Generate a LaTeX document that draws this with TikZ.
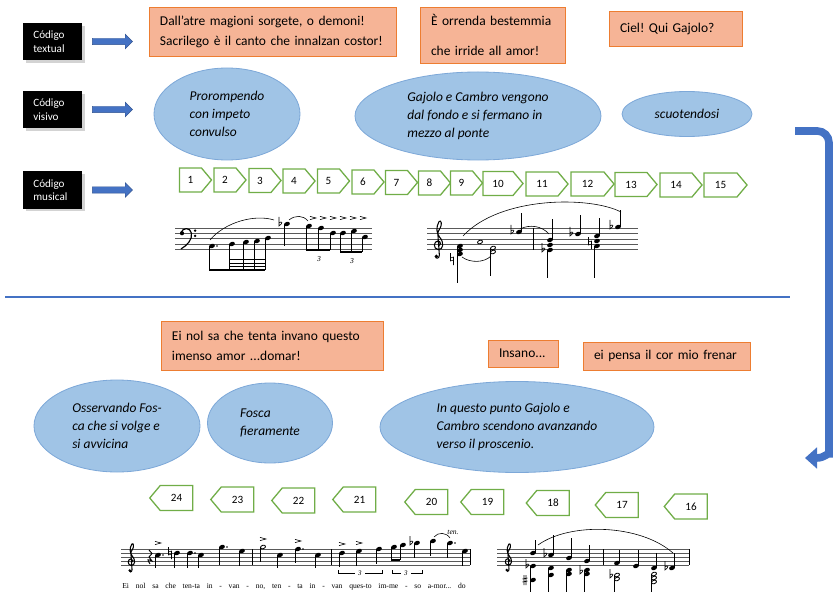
\documentclass[tikz,border=0pt]{standalone}
\usepackage{fontspec}
\setmainfont{Carlito}
\newfontfamily\scorefont{Liberation Serif}
\usetikzlibrary{positioning,shapes.geometric,shapes.symbols,shapes.arrows,shadows,arrows.meta}
\frenchspacing

\definecolor{boxorange}{RGB}{246,180,150}
\definecolor{boxedge}{RGB}{237,125,49}
\definecolor{ovalblue}{RGB}{160,196,230}
\definecolor{ovaledge}{RGB}{125,168,216}
\definecolor{flowblue}{RGB}{68,114,196}
\definecolor{flowedge}{RGB}{47,82,143}
\definecolor{tabgreen}{RGB}{112,173,71}

% small helpers for the score snippets (x, y in pixels)
\newcommand{\staffat}[4]{\foreach \k in {0,...,4}{\draw[line width=0.4pt, black!65] (#1,{#3+\k*#4}) -- (#2,{#3+\k*#4});}}
\newcommand{\nhead}[2]{\fill[rotate around={20:(#1,#2)}] (#1,#2) ellipse [x radius=3, y radius=2.1];}
\newcommand{\openhd}[2]{\draw[line width=0.7pt, rotate around={20:(#1,#2)}] (#1,#2) ellipse [x radius=2.6, y radius=1.7];}
\newcommand{\notedn}[3]{\nhead{#1}{#2}\draw[line width=0.5pt] ({#1-2.7},#2) -- ({#1-2.7},#3);}
\newcommand{\noteup}[3]{\nhead{#1}{#2}\draw[line width=0.5pt] ({#1+2.7},#2) -- ({#1+2.7},#3);}
\newcommand{\dotmark}[2]{\fill (#1,#2) circle [radius=0.8];}
\newcommand{\accmark}[2]{\draw[line width=0.5pt] ({#1-3},{#2-1.6}) -- ({#1+3},#2) -- ({#1-3},{#2+1.6});}
\newcommand{\flatmark}[2]{\draw[line width=0.5pt] ({#1-1},{#2-7}) -- ({#1-1},{#2+2}) .. controls ({#1+3.5},{#2-1}) and ({#1+2},{#2-3.5}) .. ({#1-1},{#2-1});}
\newcommand{\naturalmark}[2]{\draw[line width=0.5pt] ({#1-1.5},{#2-6}) -- ({#1-1.5},{#2+2}) -- ({#1+1.5},{#2+1}) (#1+1.5,{#2+6}) -- ({#1+1.5},{#2-2}) -- ({#1-1.5},{#2-1});}
\newcommand{\sharpmark}[2]{\draw[line width=0.5pt] ({#1-1},{#2-5}) -- ({#1-1},{#2+5}) ({#1+1},{#2-5}) -- ({#1+1},{#2+5}) ({#1-2.5},{#2-1}) -- ({#1+2.5},{#2-2}) ({#1-2.5},{#2+2}) -- ({#1+2.5},{#2+1});}
\newcommand{\barat}[3]{\draw[line width=0.5pt] (#1,#2) -- (#1,#3);}
% clefs: x, y of the G (or F) line, staff gap
\newcommand{\gclef}[3]{\begin{scope}[shift={(#1,#2)}, scale=#3]
  \draw[line width=0.9pt] (0.15,0.25) .. controls (0.55,0.2) and (0.55,-0.6) .. (0,-0.6)
    .. controls (-0.8,-0.6) and (-1.0,0.9) .. (0.05,1.0)
    .. controls (1.0,1.05) and (1.2,-0.3) .. (0.3,-1.3)
    .. controls (-0.3,-2.0) and (-0.4,-3.2) .. (0.2,-4.2)
    .. controls (0.6,-4.6) and (0.8,-3.6) .. (0.4,-3.0)
    .. controls (0.1,-2.6) and (-0.1,-2.2) .. (0,-1.5)
    -- (0.25,2.0) .. controls (0.3,2.7) and (-0.5,2.8) .. (-0.45,2.2);
  \fill (-0.3,2.25) circle [radius=0.35];
  \end{scope}}
\newcommand{\fclef}[3]{\begin{scope}[shift={(#1,#2)}, scale=#3]
  \fill (0,0) circle [radius=0.4];
  \draw[line width=1pt] (-0.2,-0.1) .. controls (0.1,-1.1) and (1.6,-1.2) .. (1.8,0)
    .. controls (2.0,1.2) and (1.0,2.3) .. (-0.2,3.0);
  \fill (2.5,-0.5) circle [radius=0.25] (2.5,0.5) circle [radius=0.25];
  \end{scope}}

\begin{document}
\begin{tikzpicture}[x=0.03cm, y=-0.03cm,
    codebox/.style={rectangle, fill=black, text=white, minimum width=1.77cm, minimum height=1.11cm, text width=1.15cm, inner xsep=0.31cm, align=left, font=\fontsize{9.5}{11.5}\selectfont, drop shadow={opacity=0.35}},
    flowarrow/.style={single arrow, fill=flowblue, draw=flowedge, line width=0.4pt, minimum height=1.2cm, minimum width=0.42cm, inner sep=0.09cm, single arrow head extend=0.12cm},
    lyricbox/.style={rectangle, fill=boxorange, draw=boxedge, line width=0.7pt, inner xsep=0.33cm, align=left, font=\fontsize{11.5}{17}\selectfont},
    stagenote/.style={ellipse, fill=ovalblue, draw=ovaledge, line width=0.7pt, inner sep=0, align=left, font=\itshape\fontsize{11.5}{15.5}\selectfont},
    barbox/.style={signal, draw=tabgreen, line width=1.1pt, fill=white, inner sep=0, signal pointer angle=100, font=\fontsize{9.5}{10}\selectfont},
    fwd/.style={barbox, signal to=east, minimum height=0.72cm, minimum width=0.96cm},
    bwd/.style={barbox, signal to=west, minimum height=0.75cm, minimum width=1.29cm},
    score/.style={inner sep=0, font=\scorefont\fontsize{6.5}{7}\selectfont}
  ]
  \useasboundingbox (0,0) rectangle (834,594);

  % Row labels
  \node[codebox] (tx) at (52.5,41.5) {Código\\textual};
  \node[codebox] (vs) at (52.5,109.5) {Código\\visivo};
  \node[codebox] (mu) at (52.5,190) {Código\\musical};
  \node[flowarrow, right=0.3cm of tx] (txarrow) {};
  \node[flowarrow, right=0.3cm of vs] (vsarrow) {};
  \node[flowarrow, right=0.3cm of mu] (muarrow) {};

  % Text (upper half)
  \node[lyricbox, text width=6.75cm, minimum height=1.47cm] (dall) at (272.5,31.5) {Dall’atre magioni sorgete, o demoni!\\Sacrilego è il canto che innalzan costor!};
  \node[lyricbox, text width=3.69cm, minimum height=1.68cm] (orr) at (492.5,35) {È orrenda bestemmia\\[9pt]che irride all amor!};
  \node[lyricbox, text width=3.33cm, minimum height=1.05cm] (ciel) at (675.5,28.5) {Ciel! Qui Gajolo?};

  % Stage directions (upper half)
  \node[stagenote, minimum width=4.38cm, minimum height=2.76cm] (pror) at (227,114) {Prorompendo\\con impeto\\convulso};
  \node[stagenote, minimum width=7.38cm, minimum height=2.64cm] (gaj) at (478,116) {Gajolo e Cambro vengono\\dal fondo e si fermano in\\mezzo al ponte};
  \node[stagenote, minimum width=3.9cm, minimum height=1.35cm] (scuo) at (687,114) {scuotendosi};

  % Bars 1-15
  \node[fwd] (m1) at (190.5,180) {1};
  \node[fwd] (m2) at (225,180) {2};
  \node[fwd] (m3) at (260,180.5) {3};
  \node[fwd] (m4) at (294,181) {4};
  \node[fwd] (m5) at (328.5,181) {5};
  \node[fwd] (m6) at (363,182) {6};
  \node[fwd] (m7) at (396.5,182.5) {7};
  \node[fwd] (m8) at (429.5,183) {8};
  \node[fwd] (m9) at (461.5,183) {9};
  \node[fwd, minimum width=1.2cm] (m10) at (498,183.5) {10};
  \node[fwd, minimum width=1.26cm] (m11) at (542,184) {11};
  \node[fwd, minimum width=1.29cm] (m12) at (587.5,184) {12};
  \node[fwd, minimum width=1.26cm] (m13) at (631,184.5) {13};
  \node[fwd, minimum width=1.26cm] (m14) at (676,185) {14};
  \node[fwd, minimum width=1.29cm] (m15) at (720.5,185) {15};

  % Score, bass staff
  \staffat{175}{372}{228}{5.25}
  \fclef{182}{233.25}{5.25}
  \notedn{212}{246}{270} \dotmark{217}{246}
  \notedn{232}{244}{270} \notedn{246}{242}{270} \notedn{257}{241}{270} \notedn{268}{238}{270}
  \draw[line width=1.3pt] (209.3,270) -- (265.3,270);
  \foreach \b in {266.6,263.2,259.8}{\draw[line width=1.1pt] (229.3,\b) -- (265.3,\b);}
  \flatmark{280}{224} \notedn{287}{224}{246}
  \draw[line width=0.5pt] (289,220) .. controls (295,215) and (303,215) .. (308,221);
  \notedn{309}{226}{250} \notedn{321}{228}{250} \notedn{333}{233}{250}
  \draw[line width=1.3pt] (306.3,250) -- (330.3,250);
  \notedn{343}{233}{252} \notedn{354}{231}{252} \notedn{365}{237}{252}
  \draw[line width=1.3pt] (340.3,252) -- (362.3,252);
  \node[score, font=\scorefont\itshape\fontsize{6.5}{7}\selectfont] (tripA) at (319,259) {3};
  \node[score, font=\scorefont\itshape\fontsize{6.5}{7}\selectfont] (tripB) at (352,261) {3};
  \foreach \ax in {313,323,333,343,353,363}{\accmark{\ax}{218}}
  \draw[line width=0.5pt] (210,240) .. controls (225,222) and (255,214) .. (274,220);

  % Score, treble staff
  \staffat{427}{638}{228}{5.4}
  \gclef{438}{244.2}{5.4}
  \notedn{460}{246}{283} \nhead{460}{250} \nhead{460}{254} \naturalmark{452}{259}
  \openhd{480}{242} \openhd{493}{248} \openhd{493}{252}
  \draw[line width=0.5pt] (490.4,248) -- (490.4,276);
  \draw[line width=0.5pt] (462,257) .. controls (470,263) and (484,263) .. (491,256);
  \flatmark{512}{232} \noteup{519}{232}{213}
  \barat{533}{228}{249.6}
  \draw[line width=0.5pt] (520,229) .. controls (530,224) and (542,226) .. (549,234);
  \noteup{550}{240}{219} \nhead{550}{245} \nhead{550}{250} \flatmark{543}{250}
  \draw[line width=0.5pt] (547.3,250) -- (547.3,278);
  \flatmark{571}{234} \noteup{578}{234}{215}
  \noteup{597}{236}{218} \nhead{597}{241} \nhead{597}{246} \naturalmark{590}{243}
  \draw[line width=0.5pt] (594.3,246) -- (594.3,278);
  \flatmark{611}{227} \noteup{618}{227}{210}
  \draw[line width=0.5pt] (463,236) .. controls (500,196) and (590,196) .. (621,212);

  % Section divider and turn arrow
  \draw[flowblue, line width=1.4pt] (5,297) -- (790,297);
  \coordinate (turnin) at (795,131);
  \coordinate (turnout) at (805,458);
  \draw[flowblue, line width=0.23cm, rounded corners=0.35cm, -{Triangle[length=0.36cm, width=0.62cm]}] (turnin) -| (829,442) .. controls (829,452) and (825,458) .. (turnout);

  % Text (lower half)
  \node[lyricbox, text width=6.0cm, minimum height=1.47cm] (ei) at (272,345.5) {Ei nol sa che tenta invano questo\\imenso amor ...domar!};
  \node[lyricbox, text width=1.44cm, minimum height=0.81cm] (ins) at (523,353.5) {Insano...};
  \node[lyricbox, text width=4.35cm, minimum height=0.84cm] (pensa) at (666.5,356) {ei pensa il cor mio frenar};

  % Stage directions (lower half)
  \node[stagenote, minimum width=4.98cm, minimum height=2.76cm] (oss) at (117,426) {Osservando Fos-\\ca che si volge e\\si avvicina};
  \node[stagenote, minimum width=3.75cm, minimum height=2.4cm] (fosca) at (270,423) {Fosca\\fieramente};
  \node[stagenote, minimum width=8.22cm, minimum height=2.73cm] (quest) at (517,427) {In questo punto Gajolo e\\Cambro scendono avanzando\\verso il proscenio.};

  % Bars 16-24
  \node[bwd] (m16) at (691,506.5) {16};
  \node[bwd] (m17) at (622,505) {17};
  \node[bwd] (m18) at (553,503) {18};
  \node[bwd] (m19) at (487.5,502) {19};
  \node[bwd] (m20) at (431.5,502) {20};
  \node[bwd] (m21) at (359.5,499.5) {21};
  \node[bwd] (m22) at (298.5,500.5) {22};
  \node[bwd] (m23) at (237.5,499.5) {23};
  \node[bwd] (m24) at (176.5,498) {24};

  % Score, vocal line
  \staffat{121}{470}{549}{4.1}
  \gclef{131}{561.3}{4.1}
  \draw[line width=0.8pt] (149,550) -- (152,553.5) -- (149,557) -- (152,561) .. controls (147,559) .. (150,564);
  \notedn{158}{555}{568} \dotmark{163}{555} \accmark{158}{543}
  \naturalmark{170}{553} \notedn{177}{553}{568}
  \notedn{190}{553}{568} \dotmark{195}{553}
  \notedn{201}{555}{568}
  \notedn{222}{547}{565} \dotmark{227}{547}
  \notedn{242}{551}{566}
  \barat{252}{549}{565.4}
  \openhd{263}{547} \draw[line width=0.5pt] (260.4,547) -- (260.4,562); \accmark{263}{539}
  \notedn{280}{555}{568}
  \notedn{298}{549}{563} \dotmark{303}{549} \accmark{298}{541}
  \notedn{318}{555}{568}
  \barat{331}{549}{565.4}
  \notedn{342}{553}{567} \accmark{342}{544}
  \notedn{359}{551}{566} \accmark{359}{543}
  \notedn{379}{549}{564}
  \notedn{394}{547}{560} \notedn{403}{545}{560}
  \draw[line width=1.2pt] (391.3,560) -- (400.3,560);
  \flatmark{411}{543} \notedn{417}{543}{558}
  \notedn{433}{541}{556}
  \notedn{450}{543}{558} \dotmark{455}{543}
  \draw[line width=0.5pt] (434,537) .. controls (438,532) and (446,532) .. (450,538);
  \node[score, font=\scorefont\itshape\fontsize{6.5}{7}\selectfont] (ten) at (453,532) {ten.};
  \notedn{465}{551}{566}
  \barat{470}{549}{565.4}
  \draw[line width=0.4pt] (338,570) -- (338,573) -- (355,573) (365,573) -- (382,573) -- (382,570);
  \draw[line width=0.4pt] (392,570) -- (392,573) -- (401,573) (411,573) -- (422,573) -- (422,570);
  \node[score, font=\scorefont\itshape\fontsize{6}{7}\selectfont] (tripC) at (360,573) {3};
  \node[score, font=\scorefont\itshape\fontsize{6}{7}\selectfont] (tripD) at (406,573) {3};
  \node[score] (words) at (294,587) {\makebox[10.3cm][s]{Ei nol sa che ten-ta in - van - no, ten - ta in - van ques-to im-me - so a-mor... do}};

  % Score, accompaniment
  \staffat{497}{689}{549}{4}
  \gclef{508}{561}{4}
  \noteup{533}{553}{540} \nhead{533}{566} \nhead{533}{580} \flatmark{527}{566} \sharpmark{525}{580}
  \draw[line width=0.5pt] (530.3,566) -- (530.3,592);
  \noteup{551}{555}{535} \flatmark{545}{555} \nhead{551}{568} \nhead{551}{575}
  \draw[line width=0.5pt] (548.3,568) -- (548.3,592);
  \noteup{569}{558}{538} \nhead{569}{570} \nhead{569}{574}
  \draw[line width=0.5pt] (566.3,570) -- (566.3,592);
  \noteup{587}{561}{545} \nhead{587}{570} \nhead{587}{574} \flatmark{581}{572}
  \draw[line width=0.5pt] (584.3,570) -- (584.3,592);
  \barat{603}{549}{565}
  \noteup{617}{563}{550} \openhd{617}{575} \openhd{617}{579} \flatmark{611}{576}
  \draw[line width=0.5pt] (614.4,575) -- (614.4,592);
  \noteup{636}{566}{550}
  \noteup{654}{568}{553} \openhd{654}{574} \openhd{654}{578} \openhd{654}{582}
  \draw[line width=0.5pt] (651.4,574) -- (651.4,592);
  \flatmark{666}{568} \noteup{672}{568}{553}
  \barat{689}{549}{565}
  \draw[line width=0.5pt] (538,545) .. controls (570,522) and (640,524) .. (673,553);
\end{tikzpicture}
\end{document}
